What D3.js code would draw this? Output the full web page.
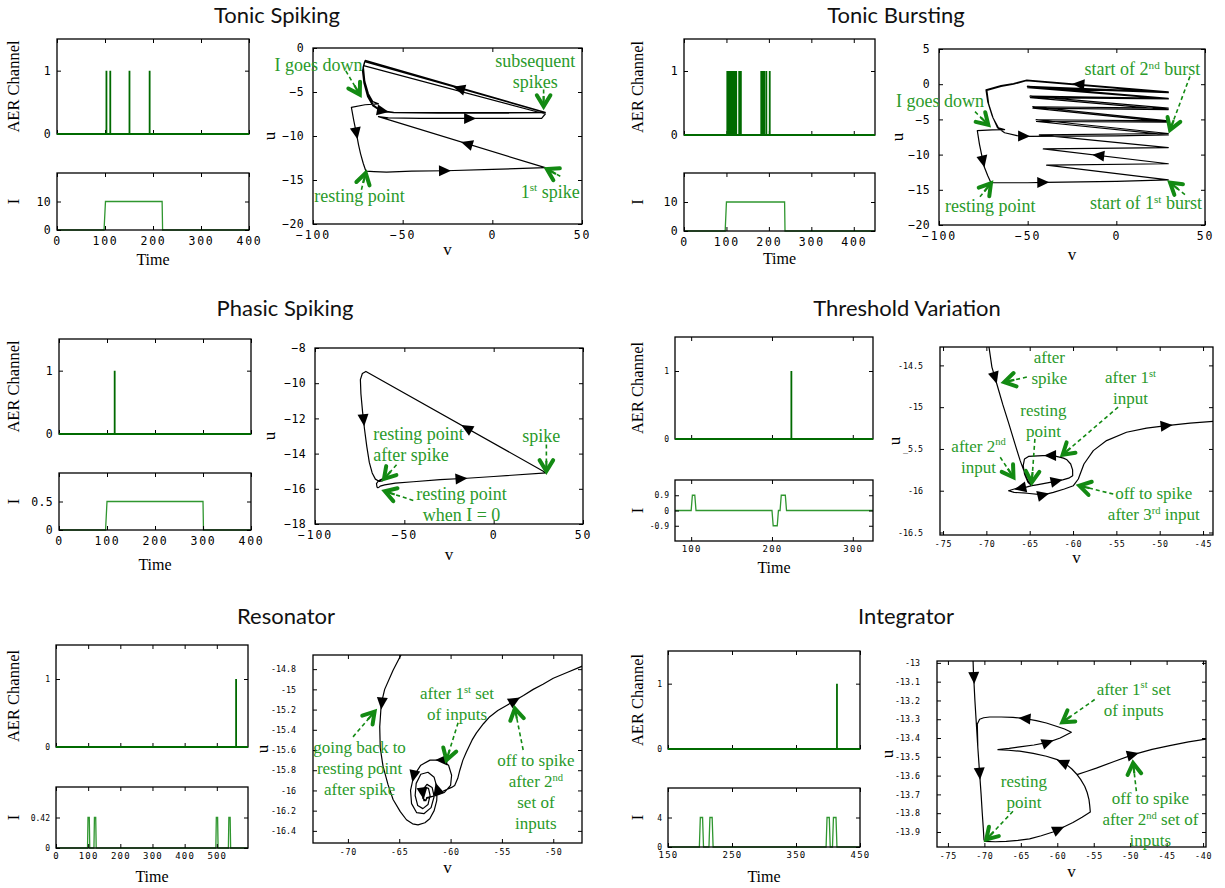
<!DOCTYPE html>
<html><head><meta charset="utf-8">
<script src="https://cdn.jsdelivr.net/npm/d3@7"></script>
<style>body{margin:0;background:#fff}svg{display:block;background:#fff}</style>
</head><body>
<svg id="c" width="1225" height="888"></svg>
<script>
// ================= DATA =================
const titles = ["Tonic Spiking","Tonic Bursting","Phasic Spiking","Threshold Variation","Resonator","Integrator"];

// ---- Tonic Spiking ----
const tsSpikeTimes = [103,111,151,193];
const tsCurrent = [[0,0],[98,0],[101,10],[219,10],[220,0],[400,0]];
const tsTimeTicks = [0,100,200,300,400];
const tsCurrentTicks = [0,10];
const tsVTicks = [-100,-50,0,50];
const tsUTicks = [-20,-15,-10,-5,0];
const tsTrajectory = [
 [-70.5,-14.0],[-66,-14.05],[-59,-14.1],[-45,-14.0],[-26,-13.95],[0,-13.8],[29.5,-13.6],
 [-63.5,-7.8],[-58,-7.95],[-40,-8.0],[-10,-8.0],[20,-8.0],[27.5,-8.0],[29.5,-7.5],
 [-71.8,-2.0],[-72.4,-2.6],[-71.6,-4.0],[-69.6,-5.5],[-66.5,-6.6],[-62,-7.2],[-55,-7.35],[-30,-7.4],[0,-7.4],[29.5,-7.35],
 [-71.2,-1.55],[-72.1,-2.2],[-71.3,-3.8],[-69.3,-5.4],[-66.2,-6.5],[-62,-7.1],[-55,-7.3],[-30,-7.35],[0,-7.35],[29.5,-7.3],
 [-70.9,-1.4],[-71.9,-2.2],[-71.1,-3.8],[-69.1,-5.2],[-66.6,-6.1],[-63.5,-6.35],
 [-71,-6.45],[-78.6,-6.75],[-77.2,-8.3],[-75.8,-9.7],[-74.6,-11.0],[-73.5,-12.0],[-72,-13.1],[-70.5,-14.0]
];
const tsArrows = [
 [-18.6,-4.6,-30,-3.93],[-61,-7.15,-57,-7.3],[-12.4,-8.0,-5,-8.0],
 [-14.3,-10.87,-25,-10.2],[-75.8,-9.7,-74.6,-11.0],[-26.4,-13.95,-20,-13.93]
];
const tsNotes = [
 {text:["I goes down"], at:[-96.9,-1.95], from:[-81.7,-2.6], to:[-73.9,-5.3]},
 {text:["subsequent","spikes"], at:[23.9,-1.44], from:[28.6,-4.73], to:[28.6,-6.63]},
 {text:["resting point"], at:[-74.1,-16.74], from:[-73,-16.1], to:[-70.6,-14.2]},
 {text:["1{st} spike"], at:[32.3,-16.29], from:[37.9,-14.58], to:[30.4,-13.75]}
];

// ---- Tonic Bursting ----
const tbSpikeTimes = [102,105,109,113,117,120,123,130,134,182,185,189,194,202];
const tbCurrent = [[0,0],[97,0],[100,10],[237,10],[238,0],[450,0]];
const tbTimeTicks = [0,100,200,300,400];
const tbCurrentTicks = [0,10];
const tbVTicks = [-100,-50,0,50];
const tbUTicks = [-20,-15,-10,-5,0,5];
const tbTrajectory = [
 [-70.7,-14.0],[-60,-14.0],[-50,-14.0],[-40,-13.95],[0,-13.8],[29.3,-13.6],
 [-39.3,-11.5],[29.3,-11.3],[-41.2,-9.2],[29.3,-9.0],[-43.4,-7.2],[29.3,-7.0],
 [-45.3,-5.05],[29.3,-5.2],[-47.2,-3.2],[29.3,-3.4],[-48.7,-1.7],[29.3,-2.0],
 [-50.2,-0.3],[29.3,-1.1],
 [-50.5,0.6],[-58,0.1],[-65,-0.2],[-73.5,-0.8],[-72.5,-2.5],[-70,-4.5],[-67,-6.2],[-63,-6.9],[-56,-7.3],[-50,-7.4],[0,-7.35],[29.3,-7.2],
 [-45,-5.3],[29.3,-5.4],[-47,-3.4],[29.3,-3.6],[-48.5,-1.9],[29.3,-2.1],[-50,-0.5],[29.3,-1.2],
 [-50.8,0.5],[-58,0.0],[-65,-0.3],[-73,-0.9],[-72,-2.8],[-69.5,-4.8],[-66.5,-6.2],[-63,-6.45],
 [-70,-6.5],[-78.4,-6.6],[-77.2,-8.5],[-75.8,-10.2],[-74.4,-11.8],[-72.5,-13.0],[-70.7,-14.0]
];
const tbArrows = [
 [-21.4,-0.02,-30,0.16],[-10.2,-10.12,-20,-9.83],[-52,-7.38,-45,-7.39],
 [-75.1,-11.0,-74.4,-11.8],[-41.2,-13.95,-35,-13.93]
];
const tbNotes = [
 {text:["start of 2{nd} burst"], at:[14.7,2.15], from:[41.5,1.1], to:[30.3,-6.48]},
 {text:["I goes down"], at:[-99.4,-2.4], from:[-79.7,-3.9], to:[-72.2,-5.77]},
 {text:["resting point"], at:[-71.05,-17.3], from:[-76.9,-16.0], to:[-70.7,-14.07]},
 {text:["start of 1{st} burst"], at:[16.7,-16.9], from:[38.7,-15.7], to:[30.3,-13.98]}
];

// ---- Phasic Spiking ----
const psSpikeTimes = [116];
const psCurrent = [[0,0],[97,0],[100,0.5],[300,0.5],[301,0],[400,0]];
const psTimeTicks = [0,100,200,300,400];
const psCurrentTicks = [0,0.5];
const psVTicks = [-100,-50,0,50];
const psUTicks = [-18,-16,-14,-12,-10,-8];
const psTrajectory = [
 [-64.6,-15.95],[-63.5,-15.85],[-61,-15.78],[-55,-15.68],[-45,-15.6],[-30,-15.48],[-15,-15.4],[0,-15.3],[29.5,-15.1],
 [-71.5,-9.33],[-73.5,-9.45],[-74.6,-9.8],[-74.3,-10.6],[-73.4,-11.6],[-72.3,-12.6],[-71,-13.6],[-69.6,-14.5],[-68,-15.1],
 [-66.2,-15.45],[-64,-15.58],[-62.4,-15.55],[-61.8,-15.5],
 [-62.5,-15.45],[-64.5,-15.55],[-65.6,-15.7],[-65.3,-15.9],[-64.6,-15.95]
];
const psArrows = [[-18,-15.42,-10,-15.36],[-15.2,-12.55,-25,-11.98],[-72.8,-12.1,-72.3,-12.6]];
const psNotes = [
 {text:["resting point","after spike"], at:[-67.4,-12.87], anchor:"start", from:[-54.35,-14.63], to:[-61.4,-15.44]},
 {text:["spike"], at:[26.7,-12.98], from:[29.5,-13.49], to:[29.5,-15.0]},
 {text:["resting point","when I = 0"], at:[-18.0,-16.28], from:[-45,-16.66], to:[-60.9,-16.14]}
];

// ---- Threshold Variation ----
const tvSpikeTimes = [224];
const tvCurrent = [[80,0],[100,0],[101.5,0.9],[104.5,0.9],[106,0],[200,0],[201.5,-0.9],[206.5,-0.9],[208,0],[210,0],[211.5,0.9],[216.5,0.9],[218,0],[325,0]];
const tvTimeTicks = [100,200,300];
const tvCurrentTicks = [-0.9,0,0.9];
const tvVTicks = [-75,-70,-65,-60,-55,-50,-45];
const tvUTicks = [-16.5,-16,-15.5,-15,-14.5];
const tvULabels = ["-16.5","-16","_5.5","-15","-14.5"];
const tvTrajectory = [
 [-69.74,-14.25],[-69.36,-14.52],[-68.8,-14.72],[-68.1,-14.97],[-67.4,-15.2],[-66.7,-15.44],[-66.1,-15.64],[-65.6,-15.78],[-65.2,-15.88],[-64.76,-15.94],
 [-64.2,-15.93],[-62.65,-15.9],[-61.2,-15.87],[-60.5,-15.85],[-60.04,-15.82],[-60.05,-15.75],[-60.27,-15.68],[-60.7,-15.63],[-61.1,-15.61],
 [-62.27,-15.58],[-63.5,-15.58],[-65.14,-15.59],[-65.6,-15.62],[-65.75,-15.7],[-65.6,-15.8],[-65.2,-15.9],[-64.76,-15.94],
 [-65.5,-15.96],[-66.5,-15.97],[-67.44,-16.0],[-66.8,-16.02],[-65.33,-16.03],[-63.42,-16.05],[-62.27,-16.02],[-61,-15.98],[-59.96,-15.94],
 [-59.39,-15.86],[-58.74,-15.68],[-57.66,-15.52],[-56.13,-15.4],[-53.83,-15.3],[-51.52,-15.25],[-49.2,-15.22],[-46.5,-15.19],[-43.8,-15.17]
];
const tvArrows = [
 [-69.0,-14.65,-68.8,-14.72],[-62.65,-15.58,-63.5,-15.58],[-61.88,-15.885,-61.2,-15.87],
 [-66.1,-15.97,-67,-15.99],[-63.42,-16.05,-62.27,-16.02],[-49.2,-15.22,-46.5,-15.19]
];
const tvNotes = [
 {text:["after","spike"], at:[-62.73,-14.4], from:[-65.33,-14.64], to:[-67.94,-14.7]},
 {text:["after 1{st}","input"], at:[-53.37,-14.64], from:[-54.8,-15.0], to:[-61.2,-15.57]},
 {text:["resting","point"], at:[-63.42,-15.04], from:[-64.4,-15.38], to:[-64.76,-15.9]},
 {text:["after 2{nd}","input"], at:[-70.9,-15.46], from:[-68.4,-15.6], to:[-66.87,-15.84]},
 {text:["off to spike","after 3{rd} input"], at:[-50.68,-16.03], from:[-55.36,-16.04], to:[-59.27,-15.94]}
];

// ---- Resonator ----
const rsSpikeTimes = [560];
const rsCurrent = [[0,0],[98,0],[99.5,0.42],[103.5,0.42],[105,0],[118,0],[119.5,0.42],[123.5,0.42],[125,0],
 [497,0],[498.5,0.42],[502.5,0.42],[504,0],[536,0],[537.5,0.42],[541.5,0.42],[543,0],[597,0]];
const rsTimeTicks = [0,100,200,300,400,500];
const rsCurrentTicks = [0,0.42];
const rsVTicks = [-70,-65,-60,-55,-50];
const rsUTicks = [-16.4,-16.2,-16,-15.8,-15.6,-15.4,-15.2,-15,-14.8];
const rsTrajectory = [
 [-64.63,-14.62],[-65.6,-14.81],[-66.42,-15.0],[-66.75,-15.14],[-66.9,-15.37],[-66.85,-15.58],[-66.58,-15.76],[-66.1,-15.94],
 [-65.6,-16.09],[-64.9,-16.21],[-64.3,-16.29],[-63.7,-16.33],[-63.17,-16.34],[-62.5,-16.32],[-62.03,-16.28],[-61.6,-16.2],
 [-61.35,-16.1],[-61.3,-15.98],[-61.6,-15.87],[-62.2,-15.82],[-62.9,-15.84],[-63.35,-15.93],[-63.45,-16.05],[-63.2,-16.15],
 [-62.7,-16.18],[-62.2,-16.14],[-62.0,-16.05],[-62.15,-15.98],[-62.5,-15.97],[-62.7,-16.03],[-62.6,-16.1],[-62.4,-16.1],[-62.33,-16.07],
 [-61.4,-16.05],[-60.6,-16.02],[-60.0,-15.95],[-59.9,-15.85],[-60.2,-15.75],[-60.9,-15.7],[-62.0,-15.7],[-62.9,-15.75],[-63.6,-15.86],
 [-63.9,-16.0],[-63.8,-16.13],[-63.3,-16.22],[-62.6,-16.23],[-61.9,-16.17],[-61.6,-16.06],[-61.8,-15.97],[-62.3,-15.94],[-62.75,-16.0],
 [-62.7,-16.08],[-62.4,-16.1],[-62.33,-16.08],
 [-61.5,-16.05],[-60.6,-16.0],[-59.9,-15.97],[-59.6,-15.95],[-59.3,-15.88],[-59.1,-15.8],[-58.8,-15.7],[-58.46,-15.62],[-57.9,-15.5],
 [-57.48,-15.43],[-56.8,-15.34],[-56.18,-15.27],[-55.4,-15.21],[-54.55,-15.16],[-53.74,-15.11],[-52.9,-15.06],[-51.95,-15.0],
 [-51,-14.95],[-50,-14.89],[-48.6,-14.83],[-47.17,-14.77]
];
const rsArrows = [
 [-66.7,-15.14,-66.85,-15.3],[-63.6,-15.86,-63.9,-16.0],[-62.7,-16.03,-62.6,-16.1],
 [-61.3,-15.98,-61.6,-15.87],[-60.9,-15.7,-62.0,-15.7],[-53.74,-15.11,-52.9,-15.06]
];
const rsNotes = [
 {text:["going back to","resting point","after spike"], at:[-68.86,-15.57], from:[-69.5,-15.47], to:[-67.4,-15.22]},
 {text:["after 1{st} set","of inputs"], at:[-59.37,-15.04], from:[-59.27,-15.33], to:[-60.4,-15.7]},
 {text:["off to spike","after 2{nd}","set of","inputs"], at:[-51.69,-15.7], from:[-52.93,-15.6], to:[-53.74,-15.19]}
];

// ---- Integrator ----
const igSpikeTimes = [414];
const igCurrent = [[150,0],[199,0],[200.5,4],[204,4],[205.5,0],[214,0],[215.5,4],[219,4],[220.5,0],
 [397,0],[398.5,4],[402,4],[403.5,0],[407,0],[408.5,4],[412.5,4],[414,0],[450,0]];
const igTimeTicks = [150,250,350,450];
const igCurrentTicks = [0,4];
const igVTicks = [-75,-70,-65,-60,-55,-50,-45,-40];
const igUTicks = [-13.9,-13.8,-13.7,-13.6,-13.5,-13.4,-13.3,-13.2,-13.1,-13];
const igTrajectory = [
 [-71.57,-12.97],[-71.5,-13.05],[-71.3,-13.2],[-71.11,-13.32],[-70.9,-13.45],[-70.65,-13.59],[-70.45,-13.7],[-70.29,-13.8],[-70.15,-13.88],[-70.06,-13.94],[-69.97,-13.95],
 [-68.5,-13.952],[-67.0,-13.95],[-65.4,-13.945],[-63.8,-13.937],[-62.2,-13.92],[-60.59,-13.90],[-59.2,-13.875],[-57.85,-13.85],[-56.6,-13.822],[-55.47,-13.794],
 [-55.55,-13.76],[-55.65,-13.728],[-55.9,-13.69],[-56.24,-13.657],[-56.8,-13.62],[-57.39,-13.59],[-58.0,-13.565],[-58.76,-13.54],[-60.0,-13.515],[-61.5,-13.497],
 [-63.3,-13.482],[-65.16,-13.47],[-66.7,-13.465],[-68.14,-13.462],
 [-66.6,-13.455],[-65.16,-13.447],[-63.2,-13.437],[-61.28,-13.423],[-59.6,-13.4],[-58.07,-13.369],[-59.0,-13.352],[-60.13,-13.337],[-61.5,-13.32],
 [-62.88,-13.307],[-64.5,-13.296],[-66.08,-13.29],[-67.7,-13.288],[-69.28,-13.288],[-70.1,-13.292],[-70.65,-13.30],[-70.97,-13.325],
 [-70.9,-13.45],[-70.65,-13.59],[-70.45,-13.7],[-70.29,-13.8],[-70.15,-13.88],[-70.06,-13.94],[-69.97,-13.95],
 [-68.5,-13.952],[-67.0,-13.95],[-65.4,-13.945],[-63.8,-13.937],[-62.2,-13.92],[-60.59,-13.90],[-59.2,-13.875],[-57.85,-13.85],[-56.6,-13.822],[-55.47,-13.794],
 [-55.55,-13.76],[-55.65,-13.728],[-55.9,-13.69],[-56.24,-13.657],[-56.8,-13.62],[-57.3,-13.595],
 [-56,-13.578],[-54.64,-13.56],[-52.2,-13.525],[-49.61,-13.488],[-47,-13.46],[-44.58,-13.44],[-42,-13.42],[-39.5,-13.405]
];
const igArrows = [
 [-71.43,-13.08,-71.3,-13.2],[-70.65,-13.59,-70.45,-13.7],[-64.5,-13.296,-66.08,-13.29],
 [-61.28,-13.423,-59.6,-13.4],[-59.3,-13.53,-60.5,-13.51],[-59.8,-13.885,-58.5,-13.862],[-49.61,-13.488,-47,-13.46]
];
const igNotes = [
 {text:["after 1{st} set","of inputs"], at:[-49.52,-13.138], from:[-54.87,-13.195], to:[-59.31,-13.316]},
 {text:["resting","point"], at:[-64.57,-13.63], from:[-66.08,-13.79], to:[-69.74,-13.94]},
 {text:["off to spike","after 2{nd} set of","inputs"], at:[-47.23,-13.72], from:[-49.15,-13.683], to:[-49.6,-13.533]}
];

// ================= PANEL TABLE =================
const minusFmt = d => String(d).replace("-", "\u2212");
const plainFmt = d => String(d);
const panels = [
 {title:titles[0], spikes:tsSpikeTimes, current:tsCurrent, tDom:[0,400], tTicks:tsTimeTicks, iDom:[0,20], iTicks:tsCurrentTicks,
  traj:tsTrajectory, arrows:tsArrows, notes:tsNotes, vDom:[-100,50], uDom:[-20,0], vTicks:tsVTicks, uTicks:tsUTicks, fmt:minusFmt},
 {title:titles[1], spikes:tbSpikeTimes, current:tbCurrent, tDom:[0,450], tTicks:tbTimeTicks, iDom:[0,20], iTicks:tbCurrentTicks,
  traj:tbTrajectory, arrows:tbArrows, notes:tbNotes, vDom:[-100,50], uDom:[-20,5], vTicks:tbVTicks, uTicks:tbUTicks, fmt:minusFmt},
 {title:titles[2], spikes:psSpikeTimes, current:psCurrent, tDom:[0,400], tTicks:psTimeTicks, iDom:[0,1], iTicks:psCurrentTicks,
  traj:psTrajectory, arrows:psArrows, notes:psNotes, vDom:[-100,50], uDom:[-18,-8], vTicks:psVTicks, uTicks:psUTicks, fmt:minusFmt},
 {title:titles[3], spikes:tvSpikeTimes, current:tvCurrent, tDom:[80,325], tTicks:tvTimeTicks, iDom:[-1.8,1.8], iTicks:tvCurrentTicks,
  traj:tvTrajectory, arrows:tvArrows, notes:tvNotes, vDom:[-75.35,-43.85], uDom:[-16.53,-14.28], vTicks:tvVTicks, uTicks:tvUTicks, uLabels:tvULabels, fmt:plainFmt},
 {title:titles[4], spikes:rsSpikeTimes, current:rsCurrent, tDom:[0,597], tTicks:rsTimeTicks, iDom:[0,0.84], iTicks:rsCurrentTicks,
  traj:rsTrajectory, arrows:rsArrows, notes:rsNotes, vDom:[-73.4,-47.2], uDom:[-16.52,-14.66], vTicks:rsVTicks, uTicks:rsUTicks, fmt:plainFmt},
 {title:titles[5], spikes:igSpikeTimes, current:igCurrent, tDom:[150,450], tTicks:igTimeTicks, iDom:[0,8], iTicks:igCurrentTicks,
  traj:igTrajectory, arrows:igArrows, notes:igNotes, vDom:[-76.5,-39.6], uDom:[-13.98,-12.99], vTicks:igVTicks, uTicks:igUTicks, fmt:plainFmt}
];

// ================= LAYOUT / STYLE =================
const layout = [
 {title:[277,23], aer:[57,249,39,134], cur:[57,249,173,230], ph:[313,582,48,224], ylX:19, timeY:265, uX:275, vY:255},
 {title:[896,23], aer:[684,875,39,135], cur:[684,875,173,231], ph:[939,1205,49,225], ylX:643, timeY:264, uX:903, vY:260},
 {title:[285,316], aer:[59,251,339,434], cur:[59,251,473,530], ph:[315,583,348,524], ylX:19, timeY:570, uX:275, vY:560},
 {title:[907,316], aer:[675,873,337,439], cur:[675,873,480,541], ph:[940,1213,347,535], ylX:643, timeY:573, uX:900, vY:563},
 {title:[286,624], aer:[56,248,645,747], cur:[56,248,787,848], ph:[313,582,655,843], ylX:19, timeY:882, uX:268, vY:873},
 {title:[906,624], aer:[668,860,651,749], cur:[668,860,788,847], ph:[937,1206,661,847], ylX:643, timeY:882, uX:893, vY:877}
];
const bigStyle = {sYfs:11.5, sXfs:11.5, sXls:1.8, sYls:0.3, sXpad:7, sYpad:6,
                  pYfs:11.5, pXfs:11.5, pXls:1.8, pYls:0.3, pXpad:7, pYpad:9, noteFs:18};
const smallStyle = {sYfs:8, sXfs:9, sXls:1.2, sYls:0, sXpad:5, sYpad:6,
                  pYfs:8.3, pXfs:8.3, pXls:0.8, pYls:0, pXpad:6, pYpad:17, noteFs:17};

const MONO = "'DejaVu Sans Mono', monospace";
const SERIF = "'Liberation Serif', 'Times New Roman', serif";
const AER_COLOR = "#006a00", CUR_COLOR = "#2f962f", NOTE_TEXT = "#2a9a2a", NOTE_ARROW = "#138a13";

const svg = d3.select("#c");
svg.append("rect").attr("width",1225).attr("height",888).attr("fill","#fff");

function frame(g, box, xs, ys, o){
  const [x0,x1,y0,y1] = box;
  const mk = (axis, tr, vals, fmt, pad) => {
    const a = g.append("g").attr("transform", tr)
      .call(axis.tickValues(vals).tickSize(-4).tickPadding(pad).tickFormat(fmt || (()=>"")));
    a.select(".domain").remove();
    a.selectAll("line").attr("stroke","#000").attr("stroke-width",1);
    if (!fmt) a.selectAll("text").remove();
    return a;
  };
  const b = mk(d3.axisBottom(xs), `translate(0,${y1})`, o.xt, o.xf, o.xpad);
  b.selectAll("text").attr("font-family",MONO).attr("font-size",o.xfs).attr("letter-spacing",o.xls).attr("fill","#000");
  mk(d3.axisTop(xs), `translate(0,${y0})`, o.xt, null, 0);
  const l = mk(d3.axisLeft(ys), `translate(${x0},0)`, o.yt, o.yf, o.ypad);
  l.selectAll("text").attr("font-family",MONO).attr("font-size",o.yfs).attr("letter-spacing",o.yls).attr("fill","#000");
  mk(d3.axisRight(ys), `translate(${x1},0)`, o.yt, null, 0);
  g.append("rect").attr("x",x0).attr("y",y0).attr("width",x1-x0).attr("height",y1-y0)
    .attr("fill","none").attr("stroke","#000").attr("stroke-width",1.3);
}

function richText(sel, str, fs){
  const parts = str.split(/(\{[^}]*\})/).filter(s=>s.length);
  const shift = fs*0.38;
  let pending = 0;
  parts.forEach(p=>{
    if (p.startsWith("{")) {
      sel.append("tspan").text(p.slice(1,-1)).attr("font-size",fs*0.62).attr("dy",-shift);
      pending = shift;
    } else {
      const t = sel.append("tspan").text(p);
      if (pending) { t.attr("dy", pending); pending = 0; }
    }
  });
}

let clipId = 0;
panels.forEach((P, k) => {
  const L = layout[k];
  const S = k < 3 ? bigStyle : smallStyle;
  const g = svg.append("g");

  // title
  g.append("text").attr("x",L.title[0]).attr("y",L.title[1]).attr("text-anchor","middle")
    .attr("font-family","Lato, 'Open Sans', sans-serif").attr("font-size",22).attr("fill","#111").text(P.title);

  // ---- AER plot ----
  const ax = d3.scaleLinear().domain(P.tDom).range([L.aer[0], L.aer[1]]);
  const ay = d3.scaleLinear().domain([0,1.5]).range([L.aer[3], L.aer[2]]);
  frame(g, L.aer, ax, ay, {xt:P.tTicks, xf:null, xpad:S.sXpad, xfs:S.sXfs, xls:S.sXls,
     yt:[0,1], yf:d=>String(d), ypad:S.sYpad, yfs:S.sYfs, yls:S.sYls});
  const aerPts = [[P.tDom[0],0]];
  P.spikes.forEach(s => aerPts.push([s,0],[s,1],[s,0]));
  aerPts.push([P.tDom[1],0]);
  g.append("path").attr("d", d3.line().x(d=>ax(d[0])).y(d=>ay(d[1]))(aerPts))
    .attr("fill","none").attr("stroke",AER_COLOR).attr("stroke-width",1.8);

  // ---- Current plot ----
  const cx = d3.scaleLinear().domain(P.tDom).range([L.cur[0], L.cur[1]]);
  const cy = d3.scaleLinear().domain(P.iDom).range([L.cur[3], L.cur[2]]);
  g.append("path").attr("d", d3.line().x(d=>cx(d[0])).y(d=>cy(d[1]))(P.current))
    .attr("fill","none").attr("stroke",CUR_COLOR).attr("stroke-width",1.3);
  frame(g, L.cur, cx, cy, {xt:P.tTicks, xf:d=>String(d), xpad:S.sXpad, xfs:S.sXfs, xls:S.sXls,
     yt:P.iTicks, yf:d=>String(d), ypad:S.sYpad, yfs:S.sYfs, yls:S.sYls});

  // axis labels for small plots
  g.append("text").attr("transform",`translate(${L.ylX},${(L.aer[2]+L.aer[3])/2}) rotate(-90)`)
    .attr("text-anchor","middle").attr("font-family",SERIF).attr("font-size",16.5).text("AER Channel");
  g.append("text").attr("transform",`translate(${L.ylX},${(L.cur[2]+L.cur[3])/2}) rotate(-90)`)
    .attr("text-anchor","middle").attr("font-family",SERIF).attr("font-size",16.5).text("I");
  g.append("text").attr("x",(L.cur[0]+L.cur[1])/2).attr("y",L.timeY).attr("text-anchor","middle")
    .attr("font-family",SERIF).attr("font-size",16).text("Time");

  // ---- Phase plot ----
  const px = d3.scaleLinear().domain(P.vDom).range([L.ph[0], L.ph[1]]);
  const py = d3.scaleLinear().domain(P.uDom).range([L.ph[3], L.ph[2]]);
  const id = "clip" + (clipId++);
  svg.append("clipPath").attr("id",id).append("rect")
    .attr("x",L.ph[0]).attr("y",L.ph[2]).attr("width",L.ph[1]-L.ph[0]).attr("height",L.ph[3]-L.ph[2]);
  const pg = g.append("g").attr("clip-path",`url(#${id})`);
  pg.append("path").attr("d", d3.line().x(d=>px(d[0])).y(d=>py(d[1]))(P.traj))
    .attr("fill","none").attr("stroke","#000").attr("stroke-width",1.2).attr("stroke-linejoin","round");
  // direction arrows (filled triangles)
  P.arrows.forEach(a => {
    const x = px(a[0]), y = py(a[1]);
    let dx = px(a[2]) - x, dy = py(a[3]) - y; const n = Math.hypot(dx,dy) || 1; dx/=n; dy/=n;
    const len = 12, hw = 5.5;
    const tip = [x+dx*len/2, y+dy*len/2], bx = x-dx*len/2, by = y-dy*len/2;
    const pts = [tip, [bx - dy*hw, by + dx*hw], [bx + dy*hw, by - dx*hw]];
    pg.append("path").attr("d","M"+pts.map(p=>p.join(",")).join("L")+"Z").attr("fill","#000");
  });
  const uLab = P.uLabels ? (d,i)=>P.uLabels[i] : P.fmt;
  frame(g, L.ph, px, py, {xt:P.vTicks, xf:P.fmt, xpad:S.pXpad, xfs:S.pXfs, xls:S.pXls,
     yt:P.uTicks, yf:uLab, ypad:S.pYpad, yfs:S.pYfs, yls:S.pYls});
  g.append("text").attr("transform",`translate(${L.uX},${(L.ph[2]+L.ph[3])/2}) rotate(-90)`)
    .attr("text-anchor","middle").attr("font-family",SERIF).attr("font-size",17).text("u");
  g.append("text").attr("x",(L.ph[0]+L.ph[1])/2).attr("y",L.vY).attr("text-anchor","middle")
    .attr("font-family",SERIF).attr("font-size",17).text("v");

  // ---- annotations ----
  P.notes.forEach(nt => {
    const x0 = px(nt.from[0]), y0 = py(nt.from[1]), x1 = px(nt.to[0]), y1 = py(nt.to[1]);
    let dx = x1-x0, dy = y1-y0; const n = Math.hypot(dx,dy)||1; dx/=n; dy/=n;
    g.append("line").attr("x1",x0).attr("y1",y0).attr("x2",x1-dx*4).attr("y2",y1-dy*4)
      .attr("stroke",NOTE_ARROW).attr("stroke-width",1.6).attr("stroke-dasharray","4,3");
    const hl = 13, ang = 0.55;
    const rot = (a) => [dx*Math.cos(a) - dy*Math.sin(a), dx*Math.sin(a) + dy*Math.cos(a)];
    const r1 = rot(ang), r2 = rot(-ang);
    g.append("path").attr("d",`M${x1-r1[0]*hl},${y1-r1[1]*hl}L${x1},${y1}L${x1-r2[0]*hl},${y1-r2[1]*hl}`)
      .attr("fill","none").attr("stroke",NOTE_ARROW).attr("stroke-width",4).attr("stroke-linejoin","miter").attr("stroke-linecap","round");
    g.append("line").attr("x1",x1).attr("y1",y1).attr("x2",x1-dx*hl*0.8).attr("y2",y1-dy*hl*0.8)
      .attr("stroke",NOTE_ARROW).attr("stroke-width",2.2);
    const tx = px(nt.at[0]), ty = py(nt.at[1]);
    nt.text.forEach((line, i) => {
      const t = g.append("text").attr("x",tx).attr("y",ty + i*21).attr("dy","0.35em")
        .attr("text-anchor", nt.anchor || "middle").attr("font-family",SERIF)
        .attr("font-size",S.noteFs).attr("fill",NOTE_TEXT);
      richText(t, line, S.noteFs);
    });
  });
});
</script>
</body></html>
